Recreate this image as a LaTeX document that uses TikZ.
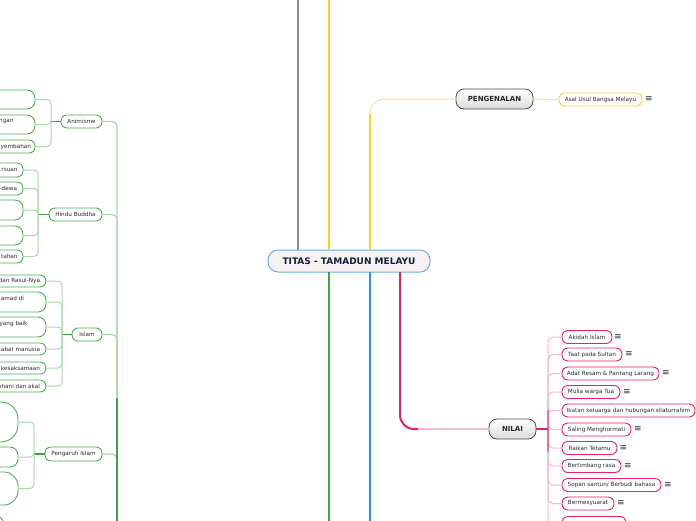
\documentclass[tikz,border=0pt]{standalone}
\usepackage{fontspec}
\setmainfont{DejaVu Sans}
\definecolor{txtc}{HTML}{2A2A2A}
\definecolor{gnode}{HTML}{4CAF50}
\definecolor{gdark}{HTML}{43A047}
\definecolor{glite}{HTML}{A8D8A8}
\definecolor{pnode}{HTML}{E91E63}
\definecolor{pdark}{HTML}{E0245E}
\definecolor{plite}{HTML}{F7B8CC}
\definecolor{pmid}{HTML}{EE6F98}
\definecolor{ydark}{HTML}{FAD21E}
\definecolor{ylite}{HTML}{FBE38A}
\definecolor{ynode}{HTML}{F5D532}
\definecolor{bdark}{HTML}{2196F3}
\definecolor{graydark}{HTML}{8F8F8F}
\definecolor{cborder}{HTML}{6AAEE0}
\definecolor{cfill}{HTML}{F5F2F1}
\definecolor{ctext}{HTML}{14213D}
\begin{document}
\begin{tikzpicture}[x=1pt,y=-1pt,
  every node/.style={inner sep=0pt, outer sep=0pt},
  txt/.style={font=\fontsize{5.7}{6.5}\selectfont, text=txtc},
  gleaf/.style={draw=gnode, line width=0.9pt, fill=white, rounded corners=6pt, txt},
  pleaf/.style={draw=pnode, line width=0.9pt, fill=white, rounded corners=6pt, txt, minimum height=13},
  menu/.style={font=\fontsize{9}{9}\selectfont, text=txtc},
  glitel/.style={glite, line width=1pt},
  gthick/.style={gdark, line width=1.5pt},
  plitel/.style={plite, line width=1pt},
  topic/.style={draw=gray!60!black, line width=0.8pt, rounded corners=8pt, top color=white, bottom color=gray!28, minimum height=20, font=\fontsize{7}{8}\selectfont\bfseries, text=txtc}
]
\useasboundingbox (0,0) rectangle (696,520);
\clip (0,0) rectangle (696,520);

% ---------- central ----------
\node[draw=cborder, fill=cfill, line width=1pt, rounded corners=10pt, minimum width=162, minimum height=22,
  font=\fontsize{9}{10}\selectfont\bfseries, text=ctext] (c) at (349,261) {TITAS - TAMADUN MELAYU};

\coordinate (grayTop) at (298,-5);
\coordinate (yTop) at (329,-5);
\coordinate (yB) at (370,250);
\coordinate (yK) at (370,114);
\coordinate (gBot) at (329,525);
\coordinate (bBot) at (370,525);
\coordinate (pK) at (400,272);
\coordinate (pH) at (418,429);

\draw[graydark, line width=2pt] (grayTop) -- (grayTop |- c.north);
\draw[ydark, line width=2pt] (yTop) -- (yTop |- c.north);
\draw[gdark, line width=2pt] (gBot |- c.south) -- (gBot);
\draw[bdark, line width=2pt] (bBot |- c.south) -- (bBot);

% ---------- PENGENALAN ----------
\node[topic, minimum width=77] (peng) at (494.5,99) {PENGENALAN};
\draw[ylite, line width=1pt, rounded corners=14pt] (yB) |- (peng.west);
\draw[ydark, line width=2pt] (yB) -- (yK);
\node[draw=ynode, line width=0.9pt, fill=white, rounded corners=6pt, minimum width=83, minimum height=13, txt] (asal) at (600.5,99.5) {Asal Usul Bangsa Melayu};
\draw[ylite, line width=1pt] (peng.east) -- (asal.west);
\node[menu] (m0) at (649,99) {≡};

% ---------- NILAI ----------
\node[topic, minimum width=47] (nilai) at (512.5,429) {NILAI};
\draw[pdark, line width=2pt, rounded corners=14pt] (pK) |- (pH);
\draw[plite, line width=1.2pt] (pH) -- (nilai.west);
\coordinate (pT) at (548,429);
\coordinate (pM1) at (548,410);
\coordinate (pM2) at (548,452);

\node[pleaf, minimum width=50] (p1) at (587,337) {Akidah Islam};
\node[pleaf, minimum width=60] (p2) at (592,354.5) {Taat pada Sultan};
\node[pleaf, minimum width=97] (p3) at (610.5,373.5) {Adat Resam \& Pantang Larang};
\node[pleaf, minimum width=58] (p4) at (591,392) {Mulia warga Tua};
\node[pleaf, minimum width=133] (p5) at (628.5,410.5) {Ikatan keluarga dan hubungan silaturrahim};
\node[pleaf, minimum width=69] (p6) at (596.5,429.5) {Saling Menghormati};
\node[pleaf, minimum width=55] (p7) at (589.5,448) {Raikan Tetamu};
\node[pleaf, minimum width=59] (p8) at (591.5,466) {Bertimbang rasa};
\node[pleaf, minimum width=99] (p9) at (611.5,485) {Sopan santun/ Berbudi bahasa};
\node[pleaf, minimum width=52] (p10) at (588,503.5) {Bermesyuarat};
\node[pleaf, minimum width=64] (p11) at (594,523) {};

\foreach \k in {p1,p2,p3,p4,p5,p6,p7,p8,p9,p10,p11}
  \draw[plitel, rounded corners=5pt] (pT) |- (\k.west);
\draw[pmid, line width=1.3pt] (pM1) -- (pM2);
\draw[pdark, line width=2pt] (nilai.east) -- (pT);

\node[menu] (m1) at (618,337) {≡};
\node[menu] (m2) at (629,354.5) {≡};
\node[menu] (m3) at (666,373.5) {≡};
\node[menu] (m4) at (627,392) {≡};
\node[menu] (m6) at (638,429.5) {≡};
\node[menu] (m7) at (623.5,448) {≡};
\node[menu] (m8) at (628,466) {≡};
\node[menu] (m9) at (668,485) {≡};
\node[menu] (m10) at (621,503.5) {≡};

% ---------- left green branch ----------
\coordinate (gt) at (117,530);
\coordinate (gM) at (117,398);

\node[gleaf, minimum width=41, minimum height=13] (anim) at (81.5,121.5) {Animisme};
\node[gleaf, minimum width=53, minimum height=13] (hindu) at (75.5,214.5) {Hindu Buddha};
\node[gleaf, minimum width=30, minimum height=13] (islam) at (87,334.5) {Islam};
\node[gleaf, minimum width=57, minimum height=14] (peng2) at (73.5,454) {Pengaruh Islam};

\foreach \k in {anim,hindu,islam,peng2}
  \draw[glitel, line width=1.2pt, rounded corners=5pt] (\k.east) -| (gt);
\draw[gdark, line width=1.6pt] (gM) -- (gt);

% Animisme children
\node[gleaf, minimum width=75, minimum height=19, rounded corners=8pt] (a1) at (-2.5,99.5) {};
\node[gleaf, minimum width=75, minimum height=19, rounded corners=8pt] (a2) at (-2.5,124.5) {};
\node[gleaf, minimum width=75, minimum height=13] (a3) at (-2.5,146.5) {};
\node[txt, anchor=east] (a2t) at (13.5,121) {ngan};
\node[txt, anchor=east] (a3t) at (31,146.5) {yembahan};
\coordinate (ab) at (51,121.5);
\draw[gthick] (anim.west) -- (ab);
\foreach \k in {a1,a2,a3} \draw[glitel, rounded corners=4pt] (ab) |- (\k.east);

% Hindu Buddha children
\node[gleaf, minimum width=63, minimum height=14] (h1) at (-8.5,170) {};
\node[gleaf, minimum width=63, minimum height=13] (h2) at (-8.5,188.5) {};
\node[gleaf, minimum width=63, minimum height=20, rounded corners=8pt] (h3) at (-8.5,210) {};
\node[gleaf, minimum width=63, minimum height=19, rounded corners=8pt] (h4) at (-8.5,235.5) {};
\node[gleaf, minimum width=63, minimum height=13] (h5) at (-8.5,256.5) {};
\node[txt, anchor=east] (h1t) at (17.5,170) {rsuan};
\node[txt, anchor=east] (h2t) at (17,188.5) {-dewa};
\node[txt, anchor=east] (h5t) at (17.5,256.5) {tahan};
\coordinate (hb) at (38,214.5);
\draw[gthick] (hindu.west) -- (hb);
\foreach \k in {h1,h2,h3,h4,h5} \draw[glitel, rounded corners=4pt] (hb) |- (\k.east);

% Islam children
\node[gleaf, minimum width=86, minimum height=12] (i1) at (3,281) {};
\node[gleaf, minimum width=86, minimum height=20, rounded corners=8pt] (i2) at (3,302) {};
\node[gleaf, minimum width=86, minimum height=20, rounded corners=8pt] (i3) at (3,327) {};
\node[gleaf, minimum width=86, minimum height=12] (i4) at (3,349) {};
\node[gleaf, minimum width=86, minimum height=12] (i5) at (3,368) {};
\node[gleaf, minimum width=86, minimum height=12] (i6) at (3,386) {};
\node[txt, anchor=east] (i1t) at (40,281) {dan Rasul-Nya};
\node[txt, anchor=east] (i2t) at (24,298.5) {amad di};
\node[txt, anchor=east] (i3t) at (27.5,323.5) {yang baik};
\node[txt, anchor=east] (i4t) at (40,349) {tabat manusia};
\node[txt, anchor=east] (i5t) at (40,368) {kesaksamaan};
\node[txt, anchor=east] (i6t) at (40,386) {ohani dan akal};
\coordinate (ib) at (62,334.5);
\draw[gthick] (islam.west) -- (ib);
\foreach \k in {i1,i2,i3,i4,i5,i6} \draw[glitel, rounded corners=4pt] (ib) |- (\k.east);

% Pengaruh Islam children
\node[gleaf, minimum width=58, minimum height=40, rounded corners=17pt] (q1) at (-11,422) {};
\node[gleaf, minimum width=58, minimum height=20, rounded corners=8pt] (q2) at (-11,457) {};
\node[gleaf, minimum width=58, minimum height=33, rounded corners=14pt] (q3) at (-11,488.5) {};
\node[gleaf, minimum width=44, minimum height=26, rounded corners=10pt] (q4) at (-18,528) {};
\coordinate (qb) at (34,454);
\draw[gthick] (peng2.west) -- (qb);
\foreach \k in {q1,q2,q3} \draw[glitel, rounded corners=4pt] (qb) |- (\k.east);
\end{tikzpicture}
\end{document}
